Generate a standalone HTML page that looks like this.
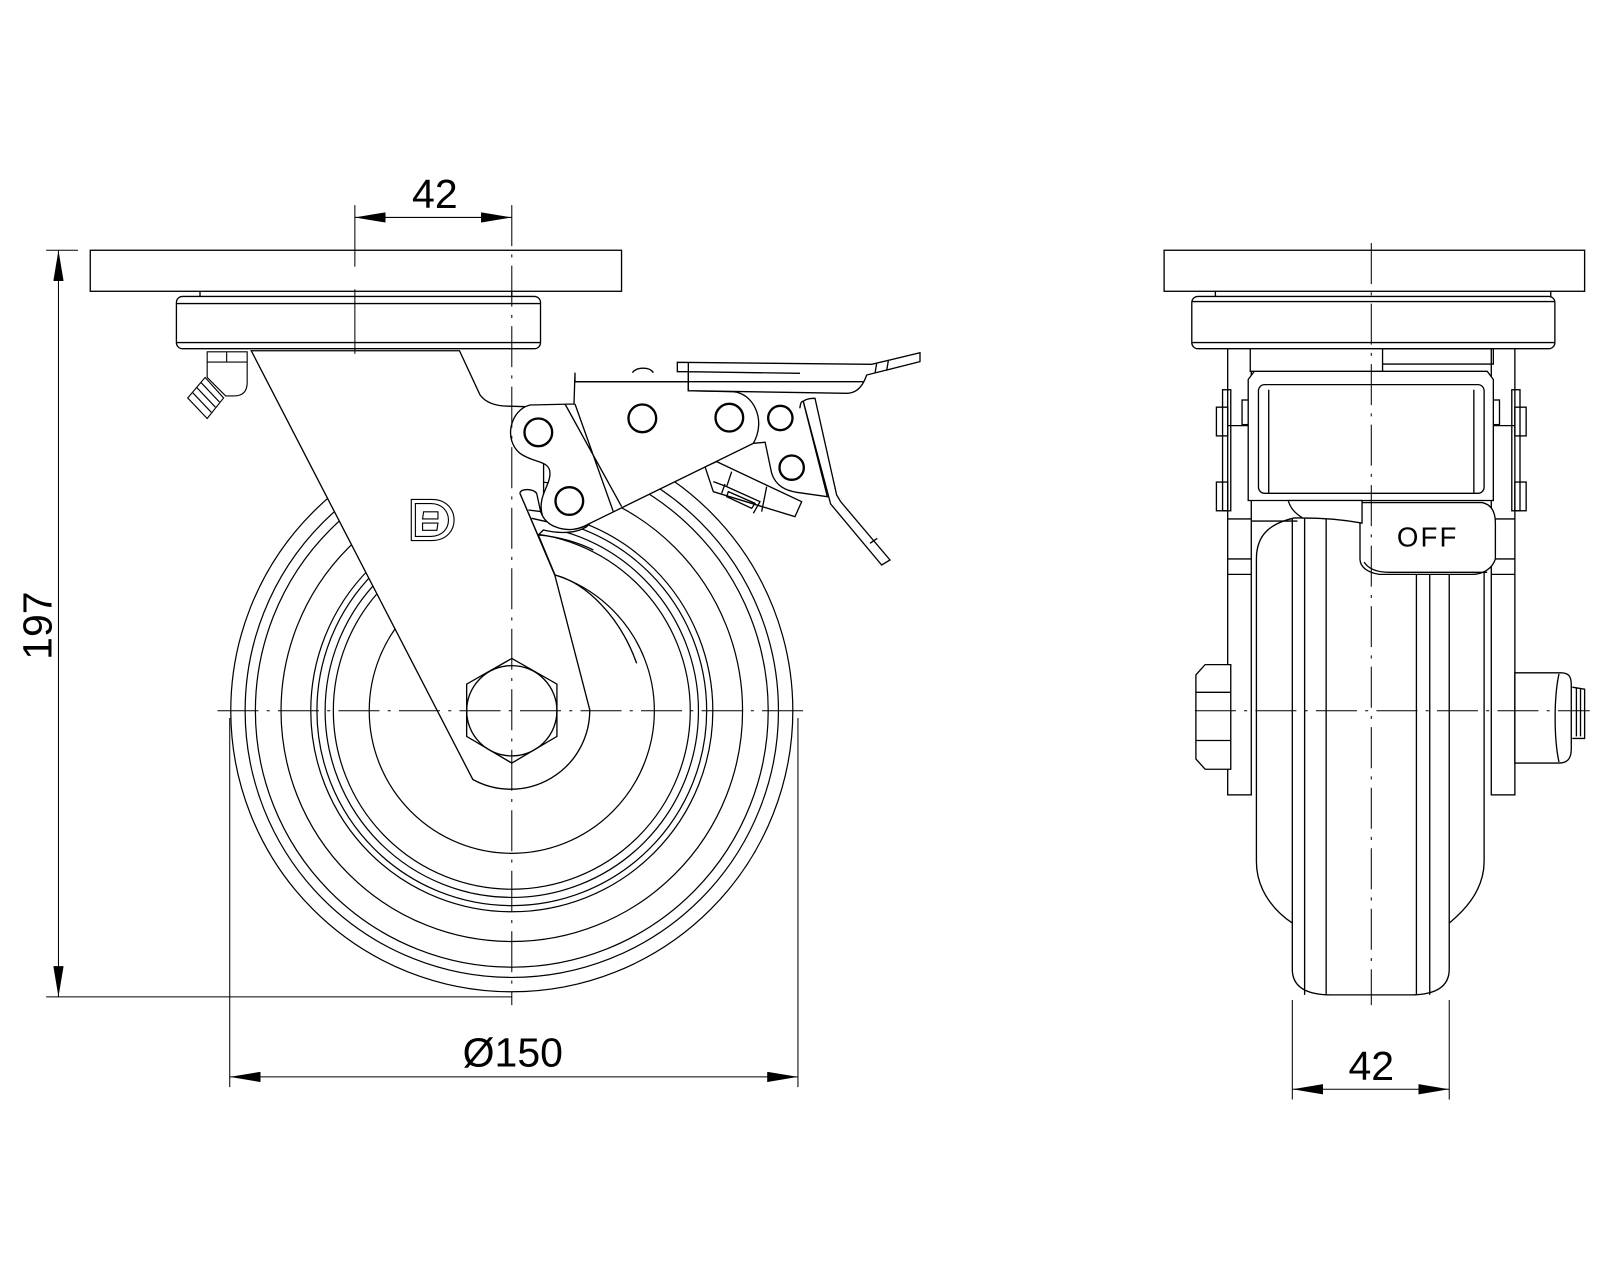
<!DOCTYPE html>
<html><head><meta charset="utf-8"><style>
html,body{margin:0;padding:0;background:#fff}
svg{display:block}
text{font-family:"Liberation Sans",Arial,sans-serif;fill:#000}
</style></head><body>
<svg width="1600" height="1280" viewBox="0 0 1560 1248" xmlns="http://www.w3.org/2000/svg">
<defs>
<marker id="ar" viewBox="0 0 30 10" refX="30" refY="5" markerWidth="30" markerHeight="10" markerUnits="userSpaceOnUse" orient="auto-start-reverse"><path d="M0,0 L30,5 L0,10 Z" fill="#000"/></marker>
</defs>
<g fill="none" stroke="#000" stroke-width="1.3">

<!-- ===== LEFT VIEW ===== -->
<g stroke-width="1.2">
<circle cx="499" cy="693" r="274"/>
<circle cx="499" cy="693" r="260"/>
<circle cx="499" cy="693" r="250"/>
<circle cx="499" cy="693" r="225"/>
<circle cx="499" cy="693" r="196"/>
<circle cx="499" cy="693" r="190"/>
<circle cx="499" cy="693" r="182"/>
<circle cx="499" cy="693" r="174"/>
<circle cx="499" cy="693" r="139"/>
</g>
<path fill="#fff" d="M245,342 L448,342 L468,385 Q476,396 496,396 L530,397 L530,500 L507,481 L541,561 L575,692 A77,77 0 0 1 461,760 Z"/>
<polygon fill="#fff" points="499,642 543,667 543,718 499,744 455,718 455,667"/>
<circle cx="499" cy="693" r="44"/>

<g transform="scale(0.975) translate(420,330) scale(0.33333)" stroke-width="4">
<path fill="#fff" d="M1000,340 L1110,330 C1135,320 1140,280 1140,232 C1142,212 1160,205 1185,205 L1250,495 L1262,515 L1410,690 L1385,705 L1232,522 L1150,215"/>
<path fill="#fff" d="M1035,335 L1055,430 C1068,470 1100,482 1130,487 L1222,500 L1150,215 C1140,210 1140,240 1140,232"/>
<path fill="#fff" d="M855,410 L890,395 L1145,515 L1125,560 L880,485 Z"/>
<path d="M880,455 L920,470 L1020,515 L1000,550 M915,462 L905,490 M935,425 L920,470 M1040,470 L1025,545 M925,485 L1005,520 L995,535 L920,500 Z"/>
<path fill="#fff" d="M465,222 L330,225 C270,240 250,330 300,370 C340,400 390,390 390,430 C390,470 350,500 368,560 C390,605 455,612 510,580 L1000,340 C1040,270 1000,190 940,185 L805,182 L805,155 L465,155 L465,128 L462,222 Z"/>
<path d="M435,222 L605,530 M465,222 L580,545 M465,155 L805,155"/>
<path fill="#fff" d="M772,97 L1355,103 L1500,68 L1500,95 L1340,135 C1325,180 1300,190 1280,190 L805,182 L805,125 L772,125 Z"/>
<path d="M805,97 L805,182 M805,155 L1330,155 M805,125 L1140,130 M1370,100 L1365,130 M1405,92 L1400,122 M1350,640 L1372,625"/>
<path d="M637,128 C650,110 690,110 700,128"/>
<path fill="#fff" d="M300,490 C300,475 340,475 350,490 L362,545 C370,570 390,585 405,590 C440,605 480,600 510,580 L500,590 C470,610 420,612 370,600 L355,615 L405,735 L300,490 Z"/>
<path d="M325,540 L365,545 M335,565 L380,575 M355,615 C420,620 480,640 520,660 M405,735 C500,760 600,860 650,1000"/>
<circle cx="355" cy="307" r="43"/><circle cx="355" cy="307" r="40"/>
<circle cx="448" cy="513" r="43"/><circle cx="448" cy="513" r="40"/>
<circle cx="667" cy="265" r="43"/><circle cx="667" cy="265" r="40"/>
<circle cx="928" cy="263" r="43"/><circle cx="928" cy="263" r="40"/>
<circle cx="1081" cy="264" r="38"/><circle cx="1081" cy="264" r="35"/>
<circle cx="1115" cy="413" r="38"/><circle cx="1115" cy="413" r="35"/>
</g>

<rect x="88" y="244" width="518" height="40" fill="#fff"/>
<path d="M195,284 L195,290 M499,284 L499,290"/>
<rect x="172" y="289" width="355" height="51" rx="6" fill="#fff"/>
<path d="M172,296 L527,296 M172,334 L527,334"/>

<!-- grease nipple -->
<g stroke-width="1.1">
<path fill="#fff" d="M202,343 L241,343 L241,373 C241,383 235,386 228,386 L220,386 L202,368 Z"/>
<path d="M202,353 L241,353 M221,343 L221,353"/>
<path fill="#fff" d="M183,388 L200,368 L218,388 L202,408 Z"/>
<path d="M188,383 L206,402 M192,378 L210,397 M196,373 L214,392"/>
</g>

<!-- D logo -->
<g stroke-width="1.1">
<path d="M401,487 L421,487 C450,487 450,527 421,527 L401,527 Z"/>
<path d="M405,491 L420,491 C443,491 443,523 420,523 L405,523 Z"/>
<path d="M413,499 L427,499 L427,506 L412,506 Z M412,510 L427,510 L426,517 L412,517 Z"/>
</g>

<g stroke-width="1">
<path d="M499,200 L499,980" stroke-dasharray="40,8,3,8"/>
<path d="M346,200 L346,260 M346,282 L346,345" />
<path d="M212,693 L790,693" stroke-dasharray="40,8,3,8"/>
</g>

<g stroke-width="1">
<path d="M346,212 L499,212" marker-start="url(#ar)" marker-end="url(#ar)"/>
<path d="M57,244 L57,972" marker-start="url(#ar)" marker-end="url(#ar)"/>
<path d="M45,244 L76,244 M45,972 L499,972"/>
<path d="M224,700 L224,1060 M778,700 L778,1060"/>
<path d="M224,1050 L778,1050" marker-start="url(#ar)" marker-end="url(#ar)"/>
</g>

<!-- ===== RIGHT VIEW ===== -->
<path fill="#fff" d="M1225,545 C1225,520 1240,510 1262,505 L1412,505 C1435,510 1447,525 1447,545 L1447,840 C1447,870 1425,890 1413,900 L1413,945 C1413,965 1395,970 1375,970 L1298,970 C1278,970 1260,965 1260,945 L1260,900 C1245,890 1225,870 1225,840 Z"/>
<path d="M1260,505 L1260,900 M1272,505 L1272,970 M1293,505 L1293,970 M1381,505 L1381,970 M1394,505 L1394,970 M1413,505 L1413,900"/>
<rect x="1197" y="330" width="23" height="445" fill="#fff"/>
<rect x="1454" y="330" width="23" height="445" fill="#fff"/>
<path d="M1197,415 L1220,415 M1454,415 L1477,415 M1197,506 L1220,506 M1454,506 L1477,506 M1197,545 L1220,545 M1454,545 L1477,545 M1197,560 L1220,560 M1454,560 L1477,560"/>
<path d="M1220,508 L1265,508 M1410,508 L1454,508"/>
<rect x="1186" y="397" width="11" height="28" /><rect x="1186" y="470" width="11" height="28"/>
<rect x="1477" y="397" width="11" height="28"/><rect x="1477" y="470" width="11" height="28"/>
<rect x="1192" y="380" width="8" height="118"/><rect x="1474" y="380" width="8" height="118"/>
<rect x="1211" y="390" width="8" height="24"/><rect x="1220" y="420" width="8" height="28"/>
<rect x="1450" y="420" width="6" height="28"/><rect x="1456" y="390" width="6" height="24"/>
<path fill="#fff" d="M1217,370 L1223,362 L1450,362 L1456,370 L1456,488 L1217,488 Z"/>
<rect x="1227" y="375" width="220" height="106" rx="6" fill="#fff"/>
<path d="M1237,380 L1237,481 M1437,380 L1437,481"/>
<path fill="#fff" d="M1219,333 L1348,333 L1348,362 L1219,362 Z"/>
<path d="M1348,340 L1456,340 L1456,355 L1348,355"/>
<path fill="#fff" d="M1326,490 L1445,490 C1455,492 1458,500 1458,510 L1458,545 C1455,555 1445,560 1435,560 L1345,560 C1332,558 1326,552 1326,545 Z"/>
<path d="M1330,548 C1335,556 1345,558 1355,558 L1450,558"/>
<path fill="#fff" d="M1256,488 L1328,488 L1328,510 C1300,505 1280,505 1270,505 C1262,500 1258,495 1256,488 Z"/>
<text x="1392" y="533" font-size="27" text-anchor="middle" stroke="none" letter-spacing="2">OFF</text>
<rect x="1135" y="244" width="410" height="40" fill="#fff"/>
<path d="M1185,284 L1185,290 M1512,284 L1512,290"/>
<rect x="1162" y="289" width="354" height="51" rx="6" fill="#fff"/>
<path d="M1162,294 L1516,294 M1162,334 L1516,334"/>
<path fill="#fff" d="M1175,648 L1200,648 L1200,750 L1175,750 L1166,740 L1166,658 Z"/>
<path d="M1166,675 L1200,675 M1166,722 L1200,722"/>
<path fill="#fff" d="M1477,656 L1522,656 C1530,656 1532,660 1532,668 L1532,730 C1532,740 1528,744 1520,744 L1477,744 Z"/>
<path d="M1520,657 C1515,680 1515,720 1520,743"/>
<path d="M1533,670 L1545,672 L1545,720 L1533,720 M1537,670 L1537,718 M1541,672 L1541,718"/>
<g stroke-width="1">
<path d="M1337,237 L1337,980" stroke-dasharray="40,8,3,8"/>
<path d="M1165,693 L1550,693" stroke-dasharray="40,8,3,8"/>
</g>
<g stroke-width="1">
<path d="M1260,975 L1260,1072 M1413,975 L1413,1072"/>
<path d="M1260,1062 L1413,1062" marker-start="url(#ar)" marker-end="url(#ar)"/>
</g>
</g>

<text x="424" y="203" font-size="40" text-anchor="middle">42</text>
<text x="500" y="1040" font-size="40" text-anchor="middle">Ø150</text>
<text x="1337" y="1053" font-size="40" text-anchor="middle">42</text>
<text x="0" y="0" font-size="40" text-anchor="middle" transform="translate(50,610) rotate(-90)">197</text>
</svg>
</body></html>
